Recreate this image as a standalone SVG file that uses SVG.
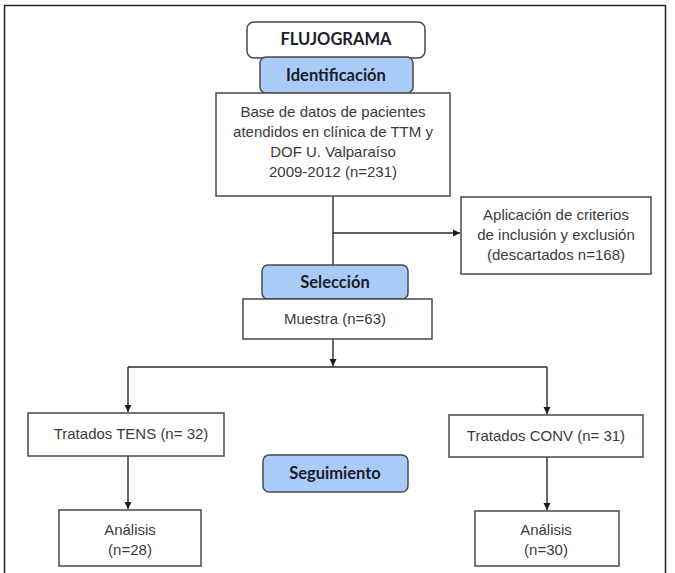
<svg xmlns="http://www.w3.org/2000/svg" width="675" height="573" viewBox="0 0 675 573">
<style>
.box{fill:#ffffff;stroke:#4a4a4a;stroke-width:1.5}
.hdr{fill:#a8ccf7;stroke:#4a4a4a;stroke-width:1.5}
.t{font-family:"Liberation Sans",Arial,sans-serif;font-size:15px;fill:#3a3a3a;text-anchor:middle}
.h{font-family:Lato,"Open Sans",sans-serif;font-weight:bold;font-size:16.5px;fill:#1c1c2a;text-anchor:middle}
.c{fill:none;stroke:#2a2a2a;stroke-width:1.4}
</style>
<defs>
<marker id="ah" markerUnits="userSpaceOnUse" markerWidth="8" markerHeight="8" refX="7" refY="4" orient="auto">
<path d="M0,0.5 L7,4 L0,7.5 Z" fill="#1a1a1a"/>
</marker>
</defs>
<rect x="4.5" y="5.5" width="661" height="580" fill="#ffffff" stroke="#222" stroke-width="1.5"/>
<g id="connectors">
<path class="c" d="M333,196 V265"/>
<path class="c" d="M333,233 H460" marker-end="url(#ah)"/>
<path class="c" d="M333,339 V366" marker-end="url(#ah)"/>
<path class="c" d="M128,367 H547"/>
<path class="c" d="M128,367 V412" marker-end="url(#ah)"/>
<path class="c" d="M547,367 V414" marker-end="url(#ah)"/>
<path class="c" d="M128,456 V509" marker-end="url(#ah)"/>
<path class="c" d="M547,457 V510" marker-end="url(#ah)"/>
</g>
<g id="flujograma">
<rect class="box" x="247" y="22" width="178" height="36" rx="7"/>
<text class="h" x="336" y="45">FLUJOGRAMA</text>
</g>
<g id="identificacion">
<rect class="hdr" x="260" y="57" width="153" height="36" rx="6"/>
<text class="h" x="336" y="81">Identificación</text>
</g>
<g id="base">
<rect class="box" x="216" y="93" width="234" height="103"/>
<text class="t" x="333" y="117">Base de datos de pacientes</text>
<text class="t" x="333" y="137">atendidos en clínica de TTM y</text>
<text class="t" x="333" y="157">DOF U. Valparaíso</text>
<text class="t" x="333" y="177">2009-2012 (n=231)</text>
</g>
<g id="aplicacion">
<rect class="box" x="461" y="197" width="190" height="77"/>
<text class="t" x="556" y="220">Aplicación de criterios</text>
<text class="t" x="556" y="240">de inclusión y exclusión</text>
<text class="t" x="556" y="260">(descartados n=168)</text>
</g>
<g id="seleccion">
<rect class="hdr" x="262" y="265" width="146" height="34" rx="6"/>
<text class="h" x="335" y="288">Selección</text>
</g>
<g id="muestra">
<rect class="box" x="243" y="299" width="189" height="40"/>
<text class="t" x="335" y="324">Muestra (n=63)</text>
</g>
<g id="tens">
<rect class="box" x="28" y="413" width="196" height="43"/>
<text class="t" x="131" y="439">Tratados TENS (n= 32)</text>
</g>
<g id="conv">
<rect class="box" x="449" y="415" width="194" height="42"/>
<text class="t" x="546" y="441">Tratados CONV (n= 31)</text>
</g>
<g id="seguimiento">
<rect class="hdr" x="263" y="455" width="145" height="37" rx="6"/>
<text class="h" x="335" y="479">Seguimiento</text>
</g>
<g id="analisis-tens">
<rect class="box" x="59" y="510" width="142" height="56"/>
<text class="t" x="130" y="535">Análisis</text>
<text class="t" x="130" y="555">(n=28)</text>
</g>
<g id="analisis-conv">
<rect class="box" x="475" y="511" width="144" height="55"/>
<text class="t" x="546" y="535">Análisis</text>
<text class="t" x="546" y="555">(n=30)</text>
</g>
</svg>
